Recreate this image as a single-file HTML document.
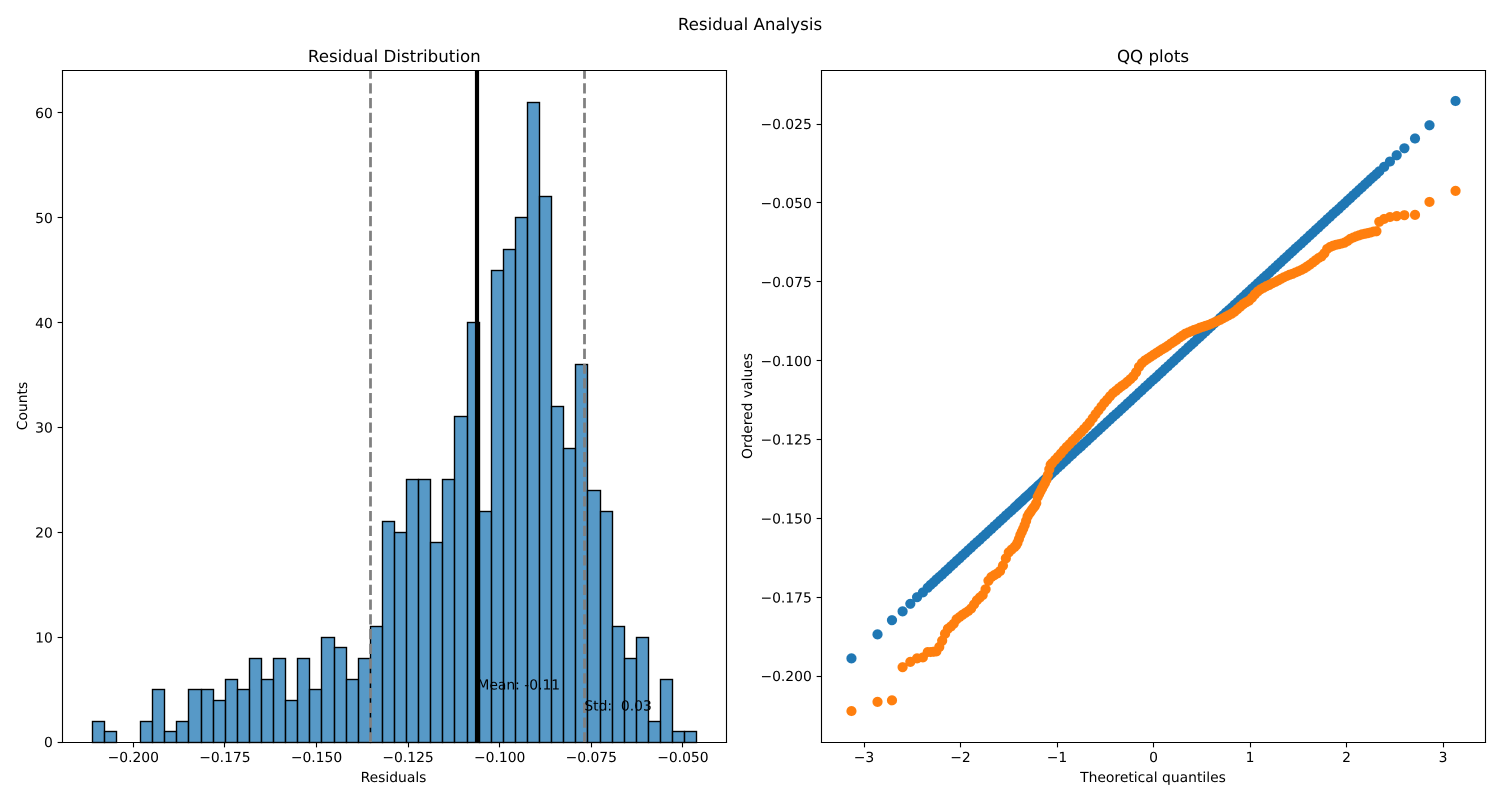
<!DOCTYPE html>
<html>
<head>
<meta charset="utf-8">
<title>Residual Analysis</title>
<style>
html,body{margin:0;padding:0;background:#fff;}
svg{display:block;}
text{font-family:"DejaVu Sans","Liberation Sans",sans-serif;font-size:13.89px;fill:#000;white-space:pre;text-rendering:geometricPrecision;}
.big{font-size:16.67px;}
</style>
</head>
<body>
<svg id="chart" xmlns="http://www.w3.org/2000/svg" width="1500" height="800" viewBox="0 0 1500 800">
  <rect x="0" y="0" width="1500" height="800" fill="#fff"/>
  <text class="big" x="750" y="30" text-anchor="middle">Residual Analysis</text>
  <text class="big" x="394.3" y="62" text-anchor="middle">Residual Distribution</text>
  <text class="big" x="1153" y="62" text-anchor="middle">QQ plots</text>
  <text x="393.5" y="782" text-anchor="middle">Residuals</text>
  <text x="0" y="0" text-anchor="middle" transform="translate(27,406) rotate(-90)">Counts</text>
  <text x="1153" y="782" text-anchor="middle">Theoretical quantiles</text>
  <text x="0" y="0" text-anchor="middle" transform="translate(752,406) rotate(-90)">Ordered values</text>
  <g id="hist-layer"></g>
  <g id="qq-layer"></g>
</svg>
<script>
const binCounts = [2,1,0,0,2,5,1,2,5,5,4,6,5,8,6,8,4,8,5,10,9,6,8,11,21,20,25,25,19,25,31,40,22,45,47,50,61,52,32,28,36,24,22,11,8,10,2,6,1,1];
const binStart = -0.2112;
const binEnd = -0.04623;
const residualMean = -0.1061;
const residualStd = 0.0292;
const meanLabel = "Mean: -0.11";
const stdLabel = "Std:  0.03";
const meanLabelCount = 5;
const stdLabelCount = 3;
const histXTicks = [-0.2,-0.175,-0.15,-0.125,-0.1,-0.075,-0.05];
const histYTicks = [0,10,20,30,40,50,60];
const qqXTicks = [-3,-2,-1,0,1,2,3];
const qqYTicks = [-0.025,-0.05,-0.075,-0.1,-0.125,-0.15,-0.175,-0.2];

const quantiles = [-3.13,-2.86,-2.71,-2.6,-2.52,-2.45,-2.39,-2.34,-2.31,-2.28,-2.25,-2.22,-2.19,-2.16,-2.13,-2.1,-2.07,-2.04,-2.01,-1.98,-1.95,-1.92,-1.89,-1.86,-1.83,-1.8,-1.77,-1.74,-1.71,-1.68,-1.65,-1.62,-1.59,-1.56,-1.53,-1.5,-1.47,-1.44,-1.425,-1.41,-1.395,-1.38,-1.365,-1.35,-1.335,-1.32,-1.305,-1.29,-1.275,-1.26,-1.245,-1.23,-1.215,-1.2,-1.185,-1.17,-1.155,-1.14,-1.125,-1.11,-1.095,-1.08,-1.065,-1.05,-1.02,-0.99,-0.96,-0.93,-0.9,-0.87,-0.84,-0.81,-0.78,-0.75,-0.72,-0.69,-0.66,-0.63,-0.6,-0.57,-0.54,-0.51,-0.48,-0.45,-0.42,-0.39,-0.36,-0.33,-0.3,-0.27,-0.24,-0.21,-0.18,-0.15,-0.12,-0.09,-0.06,-0.03,0,0.03,0.06,0.09,0.12,0.15,0.18,0.21,0.24,0.27,0.3,0.33,0.36,0.39,0.42,0.45,0.48,0.51,0.54,0.57,0.6,0.63,0.66,0.69,0.72,0.75,0.78,0.81,0.84,0.87,0.9,0.93,0.96,0.99,1.02,1.05,1.08,1.11,1.14,1.17,1.2,1.23,1.26,1.29,1.32,1.35,1.38,1.41,1.44,1.47,1.5,1.53,1.56,1.59,1.62,1.65,1.68,1.71,1.74,1.77,1.8,1.83,1.86,1.89,1.92,1.95,1.98,2.01,2.04,2.07,2.1,2.13,2.16,2.19,2.22,2.25,2.28,2.31,2.34,2.39,2.45,2.52,2.6,2.71,2.86,3.13];

const blueValues = [-0.1944,-0.1868,-0.1823,-0.1795,-0.1771,-0.175,-0.1735,-0.172,-0.1711,-0.1703,-0.1694,-0.1686,-0.1678,-0.1669,-0.1661,-0.1652,-0.1644,-0.1635,-0.1627,-0.1618,-0.161,-0.1601,-0.1593,-0.1584,-0.1576,-0.1568,-0.1559,-0.1551,-0.1542,-0.1534,-0.1525,-0.1517,-0.1508,-0.15,-0.1491,-0.1483,-0.1475,-0.1466,-0.1462,-0.1458,-0.1453,-0.1449,-0.1445,-0.1441,-0.1436,-0.1432,-0.1428,-0.1424,-0.142,-0.1415,-0.1411,-0.1407,-0.1403,-0.1398,-0.1394,-0.139,-0.1386,-0.1381,-0.1377,-0.1373,-0.1369,-0.1365,-0.136,-0.1356,-0.1348,-0.1339,-0.1331,-0.1322,-0.1314,-0.1305,-0.1297,-0.1288,-0.128,-0.1272,-0.1263,-0.1255,-0.1246,-0.1238,-0.1229,-0.1221,-0.1212,-0.1204,-0.1195,-0.1187,-0.1178,-0.117,-0.1162,-0.1153,-0.1145,-0.1136,-0.1128,-0.1119,-0.1111,-0.1102,-0.1094,-0.1085,-0.1077,-0.1068,-0.106,-0.1052,-0.1043,-0.1035,-0.1026,-0.1018,-0.1009,-0.1001,-0.0992,-0.0984,-0.0975,-0.0967,-0.0958,-0.095,-0.0942,-0.0933,-0.0925,-0.0916,-0.0908,-0.0899,-0.0891,-0.0882,-0.0874,-0.0865,-0.0857,-0.0848,-0.084,-0.0832,-0.0823,-0.0815,-0.0806,-0.0798,-0.0789,-0.0781,-0.0772,-0.0764,-0.0755,-0.0747,-0.0738,-0.073,-0.0722,-0.0713,-0.0705,-0.0696,-0.0688,-0.0679,-0.0671,-0.0662,-0.0654,-0.0645,-0.0637,-0.0629,-0.062,-0.0612,-0.0603,-0.0595,-0.0586,-0.0578,-0.0569,-0.0561,-0.0552,-0.0544,-0.0535,-0.0527,-0.0519,-0.051,-0.0502,-0.0493,-0.0485,-0.0476,-0.0468,-0.0459,-0.0451,-0.0442,-0.0434,-0.0425,-0.0417,-0.0409,-0.04,-0.0386,-0.0369,-0.0349,-0.0327,-0.0296,-0.0254,-0.0177];

const orangeValues = [-0.2111,-0.2082,-0.2077,-0.1972,-0.1955,-0.1944,-0.1941,-0.1924,-0.1924,-0.1923,-0.1922,-0.1908,-0.1888,-0.1866,-0.185,-0.1843,-0.1834,-0.182,-0.1813,-0.1806,-0.18,-0.1794,-0.1786,-0.1773,-0.176,-0.1751,-0.1743,-0.1725,-0.1698,-0.1686,-0.168,-0.1675,-0.1667,-0.165,-0.1627,-0.1608,-0.1599,-0.1591,-0.1586,-0.1578,-0.1566,-0.1553,-0.1543,-0.1533,-0.1522,-0.1508,-0.1494,-0.1486,-0.148,-0.1473,-0.1467,-0.1461,-0.1452,-0.1432,-0.1423,-0.1414,-0.1405,-0.1396,-0.1388,-0.1378,-0.1363,-0.1345,-0.133,-0.1325,-0.1315,-0.1305,-0.1295,-0.1284,-0.1274,-0.1265,-0.1255,-0.1246,-0.1236,-0.1227,-0.1217,-0.1207,-0.1196,-0.1183,-0.117,-0.1158,-0.1146,-0.1134,-0.1124,-0.1113,-0.1103,-0.1096,-0.1088,-0.1081,-0.1075,-0.1067,-0.1059,-0.105,-0.1037,-0.102,-0.1008,-0.1,-0.0994,-0.0988,-0.0982,-0.0976,-0.097,-0.0964,-0.0959,-0.0953,-0.0946,-0.094,-0.0934,-0.0927,-0.0921,-0.0915,-0.0911,-0.0907,-0.0903,-0.09,-0.0896,-0.0893,-0.089,-0.0887,-0.0883,-0.0879,-0.0875,-0.0871,-0.0866,-0.0861,-0.0856,-0.0851,-0.0845,-0.0837,-0.0829,-0.0821,-0.0815,-0.081,-0.0801,-0.079,-0.0781,-0.0774,-0.0769,-0.0764,-0.076,-0.0755,-0.0751,-0.0746,-0.0741,-0.0736,-0.0732,-0.0728,-0.0725,-0.0721,-0.0717,-0.0713,-0.0708,-0.0702,-0.0696,-0.0689,-0.0682,-0.0675,-0.067,-0.066,-0.0646,-0.064,-0.0636,-0.0633,-0.0631,-0.0629,-0.0626,-0.0621,-0.0614,-0.061,-0.0606,-0.0603,-0.06,-0.0598,-0.0596,-0.0594,-0.0591,-0.059,-0.056,-0.0551,-0.0545,-0.0542,-0.0539,-0.0538,-0.0497,-0.0462];

const NS = "http://www.w3.org/2000/svg";
const LEFT = {l:62.5, r:726.5, t:70.5, b:742.5};
const RIGHT = {l:821.5, r:1485.5, t:70.5, b:742.5};
const histX = v => 133.3 + (v + 0.2) * 3664;
const histY = c => 742 - c * 10.485;
const qqX = z => 1153.5 + z * 96.5;
const qqY = v => 124 + (-0.025 - v) * 3154.5;
const snap = p => Math.floor(p) + 0.5;
const fmt = (v, d) => (v < 0 ? "\u2212" : "") + Math.abs(v).toFixed(d);

function make(tag, parent) {
  const e = document.createElementNS(NS, tag);
  parent.appendChild(e);
  return e;
}
function setAll(e, props) {
  for (const k in props) e.setAttribute(k, props[k]);
}
function axisFrame(parent, box) {
  const spines = [[box.l,box.t,box.r,box.t],[box.l,box.b,box.r,box.b],[box.l,box.t,box.l,box.b],[box.r,box.t,box.r,box.b]];
  spines.forEach(s => {
    const line = make("line", parent);
    
    
    setAll(line, {x1:s[0],y1:s[1],x2:s[2],y2:s[3],stroke:"#000","stroke-width":1.11,"stroke-linecap":"square"});
  });
}
function xTick(parent, box, px, label) {
  const t = make("line", parent);
  
  
  setAll(t, {x1:snap(px),y1:box.b,x2:snap(px),y2:box.b+4.86,stroke:"#000","stroke-width":1.11});
  const s = make("text", parent);
  
  
  setAll(s, {x:px,y:box.b+19.5,"text-anchor":"middle"});
  s.textContent = label;
}
function yTick(parent, box, py, label) {
  const t = make("line", parent);
  
  
  setAll(t, {x1:box.l,y1:snap(py),x2:box.l-4.86,y2:snap(py),stroke:"#000","stroke-width":1.11});
  const s = make("text", parent);
  
  
  setAll(s, {x:box.l-9.7,y:py+5.2,"text-anchor":"end"});
  s.textContent = label;
}

/* Histogram */
const hist = document.getElementById("hist-layer");
const binWidth = (binEnd - binStart) / binCounts.length;
binCounts.forEach((c, i) => {
  const x0 = snap(histX(binStart + i * binWidth));
  const x1 = snap(histX(binStart + (i + 1) * binWidth));
  const top = snap(histY(c));
  const bar = make("rect", hist);
  
  
  setAll(bar, {x:x0,y:top,width:x1-x0,height:742.5-top,fill:"#1f77b4","fill-opacity":0.75,stroke:"#000","stroke-width":1.39});
});
[residualMean - residualStd, residualMean + residualStd].forEach(v => {
  const d = make("line", hist);
  
  
  setAll(d, {x1:snap(histX(v)),y1:LEFT.b,x2:snap(histX(v)),y2:LEFT.t,stroke:"#808080","stroke-width":2.78,"stroke-dasharray":"10.3 4.45"});
});
const meanLine = make("line", hist);


setAll(meanLine, {x1:Math.round(histX(residualMean)),y1:LEFT.b,x2:Math.round(histX(residualMean)),y2:LEFT.t,stroke:"#000","stroke-width":4.17});
const meanText = make("text", hist);


setAll(meanText, {x:histX(residualMean),y:histY(meanLabelCount)});
meanText.textContent = meanLabel;
const stdText = make("text", hist);


setAll(stdText, {x:histX(residualMean + residualStd),y:histY(stdLabelCount)});
stdText.textContent = stdLabel;
axisFrame(hist, LEFT);
histXTicks.forEach(v => xTick(hist, LEFT, histX(v), fmt(v, 3)));
histYTicks.forEach(v => yTick(hist, LEFT, histY(v), String(v)));

/* QQ plot */
const qq = document.getElementById("qq-layer");
quantiles.forEach((z, i) => {
  const p = make("circle", qq);
  
  
  setAll(p, {cx:qqX(z),cy:qqY(blueValues[i]),r:5.1,fill:"#1f77b4"});
});
quantiles.forEach((z, i) => {
  const p = make("circle", qq);
  
  
  setAll(p, {cx:qqX(z),cy:qqY(orangeValues[i]),r:5.1,fill:"#ff7f0e"});
});
axisFrame(qq, RIGHT);
qqXTicks.forEach(v => xTick(qq, RIGHT, qqX(v), fmt(v, 0)));
qqYTicks.forEach(v => yTick(qq, RIGHT, qqY(v), fmt(v, 3)));
</script>
</body>
</html>
